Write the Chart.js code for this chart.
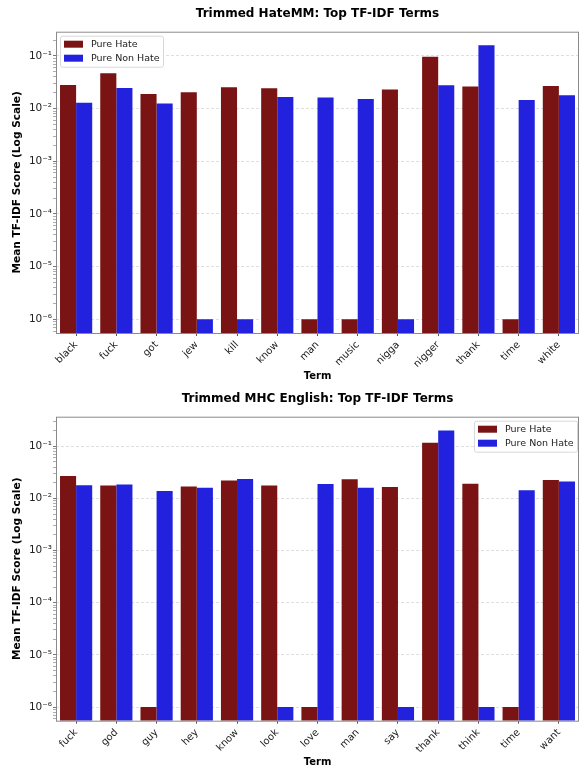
<!DOCTYPE html>
<html>
<head>
<meta charset="utf-8">
<script src="https://cdn.jsdelivr.net/npm/chart.js@4"></script>
<style>
  html, body { margin: 0; padding: 0; background: #fff; }
  canvas { position: absolute; left: 0; }
</style>
</head>
<body>
<canvas id="chartHateMM" width="579" height="385" style="top:0"></canvas>
<canvas id="chartMHC" width="579" height="384" style="top:385px"></canvas>
<script>
// data
const seriesLabels = ['Pure Hate', 'Pure Non Hate'];

const hatemmTerms = ['black', 'fuck', 'got', 'jew', 'kill', 'know', 'man', 'music', 'nigga', 'nigger', 'thank', 'time', 'white'];
const hatemmPureHate = [0.028, 0.047, 0.019, 0.0205, 0.0255, 0.0244, 1e-6, 1e-6, 0.023, 0.097, 0.0262, 1e-6, 0.027];
const hatemmPureNonHate = [0.013, 0.0247, 0.0125, 1e-6, 1e-6, 0.0167, 0.0162, 0.0153, 1e-6, 0.0278, 0.16, 0.0146, 0.018];

const mhcTerms = ['fuck', 'god', 'guy', 'hey', 'know', 'look', 'love', 'man', 'say', 'thank', 'think', 'time', 'want'];
const mhcPureHate = [0.027, 0.0176, 1e-6, 0.0169, 0.022, 0.0176, 1e-6, 0.0233, 0.0166, 0.117, 0.0192, 1e-6, 0.0226];
const mhcPureNonHate = [0.0179, 0.0184, 0.0139, 0.0161, 0.0237, 1e-6, 0.019, 0.0161, 1e-6, 0.2, 1e-6, 0.0144, 0.021];

const logTickValues = [1e-6, 1e-5, 1e-4, 1e-3, 1e-2, 1e-1];
const logTickLabels = ['10⁻⁶', '10⁻⁵', '10⁻⁴', '10⁻³', '10⁻²', '10⁻¹'];

Chart.defaults.font.family = 'DejaVu Sans';
Chart.defaults.color = '#222';

const hateColor = '#7a1313';
const nonHateColor = '#2121de';

// legend drawn inside the plot, like matplotlib's
const insideLegend = {
  id: 'insideLegend',
  afterDraw(chart, args, opts) {
    const ctx = chart.ctx;
    const area = chart.chartArea;
    const w = 103, h = 31;
    const x = opts.side === 'right' ? area.right - w - 2 : area.left + 4;
    const y = area.top + 4;
    ctx.save();
    ctx.fillStyle = 'rgba(255,255,255,0.85)';
    ctx.strokeStyle = '#d8d8d8';
    ctx.lineWidth = 1;
    ctx.beginPath();
    ctx.roundRect(x + 0.5, y + 0.5, w, h, 2);
    ctx.fill();
    ctx.stroke();
    ctx.font = '9.5px "DejaVu Sans"';
    ctx.textBaseline = 'middle';
    chart.data.datasets.forEach((ds, i) => {
      const rowY = y + 5 + i * 14;
      ctx.fillStyle = ds.backgroundColor;
      ctx.fillRect(x + 4, rowY, 19, 7);
      ctx.fillStyle = '#222';
      ctx.fillText(ds.label, x + 31, rowY + 3.5);
    });
    ctx.restore();
  }
};

const frame = {
  id: 'frame',
  afterDatasetsDraw(chart) {
    const ctx = chart.ctx;
    const a = chart.chartArea;
    ctx.save();
    ctx.strokeStyle = '#8a8a8a';
    ctx.lineWidth = 1;
    ctx.strokeRect(a.left + 0.5, a.top + 0.5, a.right - a.left - 1, a.bottom - a.top);
    ctx.restore();
  }
};

function logTicks(scale) {
  const ticks = [];
  for (let e = -7; e <= 0; e++) {
    for (let k = 1; k <= 9; k++) {
      const v = k * Math.pow(10, e);
      if (v >= scale.min && v <= scale.max) ticks.push({ value: v, major: k === 1 });
    }
  }
  scale.ticks = ticks;
}

function logLabel(value) {
  const i = logTickValues.findIndex(t => Math.abs(Math.log10(t) - Math.log10(value)) < 1e-6);
  return i >= 0 ? logTickLabels[i] : '';
}

function makeChart(id, title, terms, hate, nonHate, yMin, yMax, xHeight, xTitlePad, legendSide) {
  return new Chart(document.getElementById(id), {
    type: 'bar',
    data: {
      labels: terms,
      datasets: [{
        label: seriesLabels[0],
        data: hate,
        backgroundColor: hateColor,
        borderWidth: 0
      }, {
        label: seriesLabels[1],
        data: nonHate,
        backgroundColor: nonHateColor,
        borderWidth: 0
      }]
    },
    options: {
      responsive: false,
      animation: false,
      categoryPercentage: 0.8,
      barPercentage: 1.0,
      layout: { padding: 0 },
      plugins: {
        legend: { display: false },
        tooltip: { enabled: false },
        title: {
          display: true,
          text: title,
          fullSize: false,
          color: '#000',
          font: { size: 12, weight: 'bold' },
          padding: { top: 6.6, bottom: 10.7 }
        },
        insideLegend: { side: legendSide }
      },
      scales: {
        x: {
          offset: true,
          border: { display: false },
          grid: { display: true, drawOnChartArea: false, offset: false, tickLength: 3, tickColor: '#555' },
          ticks: { maxRotation: 45, minRotation: 45, padding: 3, font: { size: 10 }, color: '#222' },
          title: { display: true, text: 'Term', color: '#000', font: { size: 10, weight: 'bold' }, padding: { top: 0, bottom: xTitlePad } },
          afterFit: s => { s.height = xHeight; }
        },
        y: {
          type: 'logarithmic',
          min: yMin,
          max: yMax,
          border: { display: false, dash: [3, 2] },
          grid: {
            color: c => (c.tick && c.tick.major) ? 'rgba(0,0,0,0.16)' : 'rgba(0,0,0,0)',
            lineWidth: 0.8,
            tickLength: 3,
            tickColor: c => (c.tick && c.tick.major) ? '#555' : '#999'
          },
          afterBuildTicks: logTicks,
          ticks: {
            autoSkip: false,
            padding: 1,
            font: { size: 10.5 },
            color: '#222',
            callback: (value, index, ticks) => ticks[index].major ? logLabel(value) : ''
          },
          title: { display: true, text: 'Mean TF-IDF Score (Log Scale)', color: '#000', font: { size: 10.6, weight: 'bold' }, padding: { top: 10.6, bottom: 0 } },
          afterFit: s => { s.width = 56; }
        }
      }
    },
    plugins: [frame, insideLegend]
  });
}

makeChart('chartHateMM', 'Trimmed HateMM: Top TF-IDF Terms', hatemmTerms, hatemmPureHate, hatemmPureNonHate,
  5.5e-7, 0.289, 52, 3, 'left');
makeChart('chartMHC', 'Trimmed MHC English: Top TF-IDF Terms', mhcTerms, mhcPureHate, mhcPureNonHate,
  5.47e-7, 0.369, 48.3, 1, 'right');
</script>
</body>
</html>
